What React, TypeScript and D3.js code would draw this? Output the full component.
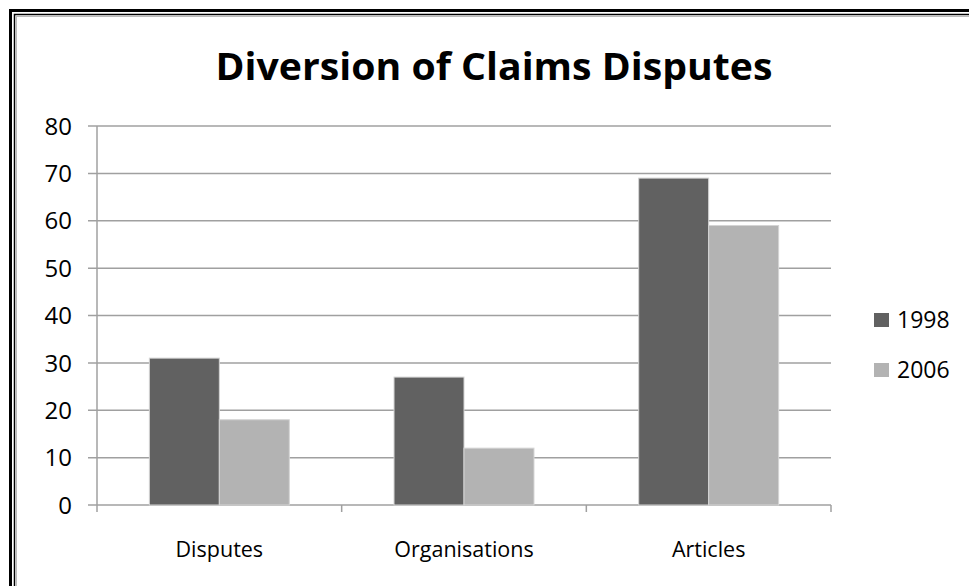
import React from "react";
import * as d3 from "d3";

const categories = ["Disputes", "Organisations", "Articles"];
const seriesNames = ["1998", "2006"];
const values1998 = [31, 27, 69];
const values2006 = [18, 12, 59];
const yTicks = [0, 10, 20, 30, 40, 50, 60, 70, 80];
const colors = ["#616161", "#b3b3b3"];
const title = "Diversion of Claims Disputes";

export default function App() {
  const W = 969, H = 586;
  const left = 97, right = 831, top = 126, bottom = 505;
  const x = d3.scaleBand<string>().domain(categories).range([left, right]).paddingInner(0).paddingOuter(0);
  const y = d3.scaleLinear().domain([0, 80]).range([bottom, top]);
  const series = [values1998, values2006];
  const font = "'Open Sans', sans-serif";
  const barW = x.bandwidth() * 0.286;
  return (
    <svg width={W} height={H} style={{ position: "absolute", left: 0, top: 0, background: "#fff" }}>
      <rect x={10.5} y={10.5} width={W + 20} height={H + 20} fill="none" stroke="#000" strokeWidth={3} />
      <rect x={14.5} y={14.5} width={W + 20} height={H + 20} fill="none" stroke="#000" strokeWidth={1.5} />
      <rect x={16.5} y={16.5} width={W + 20} height={H + 20} fill="none" stroke="#bbb" strokeWidth={1} />
      <text x={494} y={80} textAnchor="middle" fontFamily={font} fontWeight="bold" fontSize={38} textLength={557} lengthAdjust="spacingAndGlyphs" fill="#000">{title}</text>
      {yTicks.map((t) => (
        <g key={t}>
          <line x1={left - 9} x2={right} y1={y(t)} y2={y(t)} stroke="#a0a0a0" strokeWidth={1.5} />
          <text x={72} y={y(t)} dy="0.36em" textAnchor="end" fontFamily={font} fontSize={24} fill="#000">{t}</text>
        </g>
      ))}
      <line x1={left} x2={left} y1={top} y2={bottom + 7} stroke="#a0a0a0" strokeWidth={1.5} />
      {categories.map((c) => (
        <line key={"t" + c} x1={x(c)! + x.bandwidth()} x2={x(c)! + x.bandwidth()} y1={bottom} y2={bottom + 7} stroke="#a0a0a0" strokeWidth={1.5} />
      ))}
      {categories.map((c, i) => {
        const cx = x(c)! + x.bandwidth() / 2;
        return (
          <g key={c}>
            {series.map((s, j) => {
              const bx = cx - barW + j * barW;
              return (
                <rect key={j} x={bx} y={y(s[i])} width={barW} height={bottom - y(s[i])} fill={colors[j]} stroke="#d4d4d4" strokeWidth={1} />
              );
            })}
            <text x={cx} y={557} textAnchor="middle" fontFamily={font} fontSize={21.5} fill="#000">{c}</text>
          </g>
        );
      })}
      {seriesNames.map((n, j) => (
        <g key={n}>
          <rect x={874} y={313 + j * 50} width={15} height={14} fill={colors[j]} />
          <text x={897} y={320 + j * 50} dy="0.36em" fontFamily={font} fontSize={23} fill="#000">{n}</text>
        </g>
      ))}
    </svg>
  );
}
